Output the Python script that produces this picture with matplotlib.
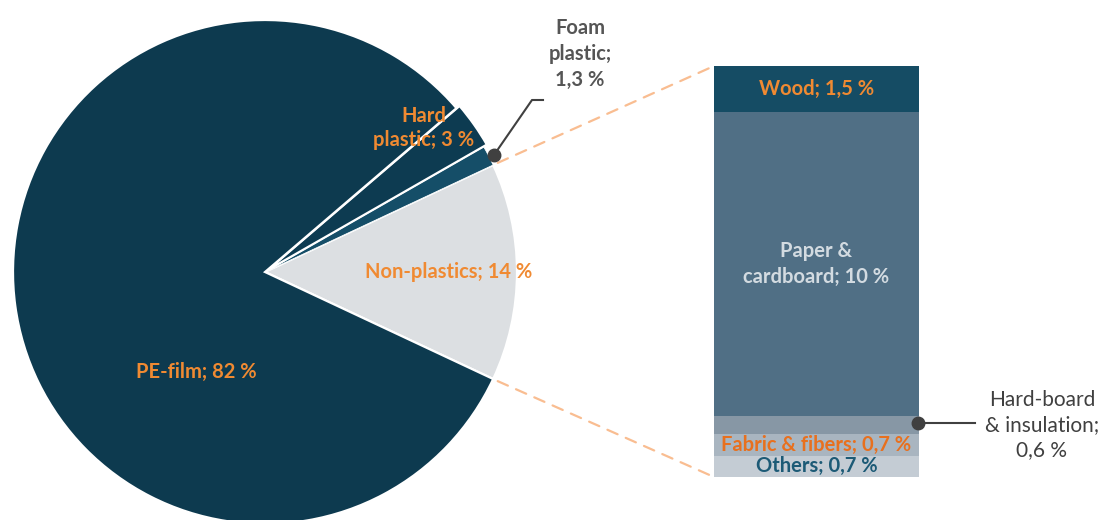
import matplotlib
matplotlib.use("Agg")
import matplotlib.pyplot as plt
from matplotlib.patches import ConnectionPatch
import numpy as np

plt.rcParams['font.family'] = ['Lato', 'DejaVu Sans']

# pie data (counter-clockwise from the right)
pie_labels = ['Non-plastics', 'Foam plastic', 'Hard plastic', 'PE-film']
pie_values = [14, 1.3, 3, 82]
pie_colors = ['#dcdfe2', '#154e68', '#0d3b51', '#0d3a4f']
pie_explode = [0, 0, 0.015, 0]

# bar data (bottom to top)
bar_labels = ['Others', 'Fabric & fibers', 'Hard-board & insulation', 'Paper & cardboard', 'Wood']
bar_values = [0.7, 0.7, 0.6, 10, 1.5]
bar_colors = ['#c4ccd4', '#a9b5c0', '#8797a5', '#506f85', '#154c64']

W, H = 1106, 520
fig = plt.figure(figsize=(W / 100, H / 100), dpi=100)

def px(x, y):
    return x / W, 1 - y / H

# pie axes: centre (265, 272), radius ~252 px
r = 252
ax = fig.add_axes([(265 - r) / W, 1 - (272 + r) / H, 2 * r / W, 2 * r / H])
start = -pie_values[0] / sum(pie_values) * 360 / 2
wedges, _ = ax.pie(pie_values, colors=pie_colors, startangle=start, counterclock=True,
                   explode=pie_explode, radius=1,
                   wedgeprops=dict(edgecolor='white', linewidth=1.6))
wedges[1].set_linewidth(0.6)
ax.set_aspect('auto')
ax.set_xlim(-1, 1)
ax.set_ylim(-1, 1)
ax.axis('off')

# bar axes
bx = fig.add_axes([714 / W, 1 - 477 / H, 205 / W, 411 / H])
total = sum(bar_values)
bottom = 0
for v, c in zip(bar_values, bar_colors):
    bx.bar(0, v, bottom=bottom, width=1, color=c, edgecolor='none')
    bottom += v
bx.set_xlim(-0.5, 0.5)
bx.set_ylim(0, total)
bx.axis('off')

# dashed connectors
frac0 = pie_values[0] / sum(pie_values) * 360 / 2
for ang, yb in [(frac0, total), (-frac0, 0)]:
    a = np.deg2rad(ang)
    con = ConnectionPatch(xyA=(1.02 * np.cos(a), 1.02 * np.sin(a)), coordsA=ax.transData,
                          xyB=(-0.5, yb), coordsB=bx.transData,
                          color='#f9bd91', linestyle=(0, (5, 4)), linewidth=1.6)
    fig.add_artist(con)

orange = '#f08a32'
fs = 14.5

def label(x, y, s, color, weight='bold', size=fs, ls=1.2):
    fig.text(*px(x, y), s, color=color, ha='center', va='center',
             fontsize=size, fontweight=weight, linespacing=ls)

label(424, 128, 'Hard\nplastic; 3 %', orange)
label(449, 272, 'Non-plastics; 14 %', orange)
label(196, 372, 'PE-film; 82 %', orange)
label(580, 54, 'Foam\nplastic;\n1,3 %', '#555555', ls=1.35)

# bar labels
cum = np.cumsum([0] + bar_values)
mids = (cum[:-1] + cum[1:]) / 2
bx.text(0, mids[4], 'Wood; 1,5 %', color=orange, ha='center', va='center',
        fontsize=fs, fontweight='bold')
bx.text(0, mids[3], 'Paper &\ncardboard; 10 %', color='#d3dbe1', ha='center', va='center',
        fontsize=fs, fontweight='bold', linespacing=1.35)
bx.text(0, mids[1], 'Fabric & fibers; 0,7 %', color='#e8701e', ha='center', va='center',
        fontsize=fs, fontweight='bold')
bx.text(0, mids[0], 'Others; 0,7 %', color='#1c5a76', ha='center', va='center',
        fontsize=fs, fontweight='bold')

# foam plastic leader
fx, fy = [494, 532, 543], [155, 100, 100]
fig.add_artist(plt.Line2D([x / W for x in fx], [1 - y / H for y in fy],
                          color='#404040', linewidth=1.5))
fig.add_artist(plt.Line2D([494 / W], [1 - 155 / H], marker='o', markersize=9,
                          color='#404040'))

# hard-board leader
fig.add_artist(plt.Line2D([918 / W, 975 / W], [1 - 423 / H, 1 - 423 / H],
                          color='#404040', linewidth=1.5))
fig.add_artist(plt.Line2D([918 / W], [1 - 423 / H], marker='o', markersize=9,
                          color='#404040'))
label(1042, 425, 'Hard-board\n& insulation;\n0,6 %', '#404040', weight='normal', size=15, ls=1.3)

fig.savefig('out.png', dpi=100)
